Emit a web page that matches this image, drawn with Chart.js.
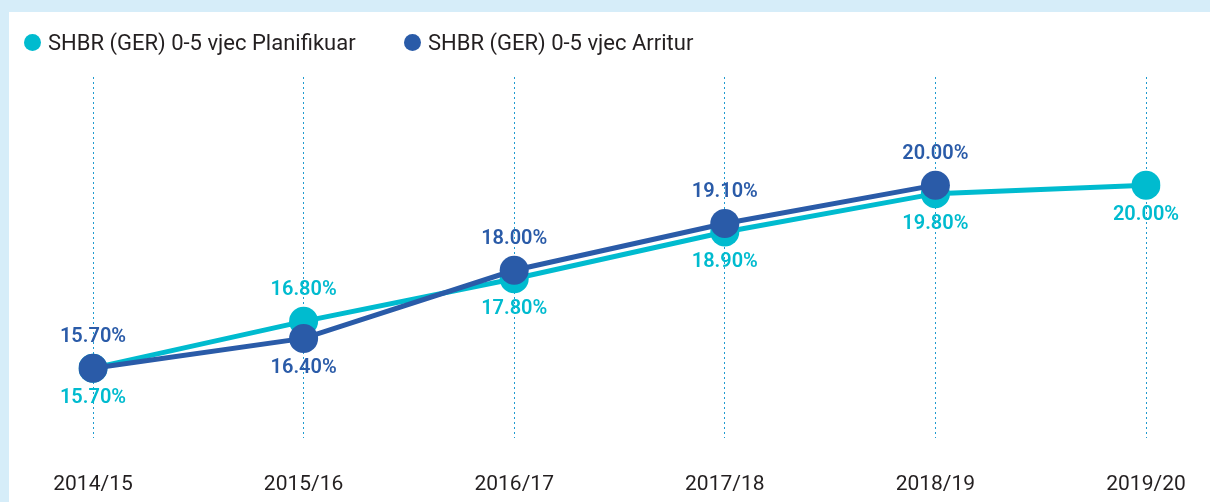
<!DOCTYPE html>
<html>
<head>
<meta charset="utf-8">
<script src="https://cdn.jsdelivr.net/npm/chart.js@4/dist/chart.umd.min.js"></script>
<style>
  html, body { margin:0; padding:0; width:1210px; height:502px; overflow:hidden; background:#d6edf9; }
  #panel { position:absolute; left:9px; top:12px; right:0; bottom:0; background:#ffffff; }
  #c { position:absolute; left:0; top:0; }
  .lg { position:absolute; top:29px; height:26px; display:flex; align-items:center;
        font-family:Roboto, sans-serif; font-size:22px; color:#231f20; white-space:nowrap; }
  .dot { width:17px; height:17px; border-radius:50%; margin-right:7px; flex:none; }
</style>
</head>
<body>
<div id="panel"></div>
<canvas id="c" width="1210" height="502"></canvas>
<div id="legend"></div>
<script>
const categories = ['2014/15','2015/16','2016/17','2017/18','2018/19','2019/20'];
const planned    = [15.7, 16.8, 17.8, 18.9, 19.8, 20.0];
const achieved   = [15.7, 16.4, 18.0, 19.1, 20.0, null];
const seriesNames = ['SHBR (GER) 0-5 vjec Planifikuar', 'SHBR (GER) 0-5 vjec Arritur'];
const yMin = 14.06, yMax = 22.54;

const CYAN = '#00bbcf';
const DARK = '#2a5ba8';

// HTML legend
const legendPos = [24, 404];
const legendColors = [CYAN, DARK];
const lg = document.getElementById('legend');
seriesNames.forEach((n, i) => {
  const d = document.createElement('div');
  d.className = 'lg';
  d.style.left = legendPos[i] + 'px';
  d.innerHTML = '<span class="dot" style="background:' + legendColors[i] + '"></span><span></span>';
  d.lastChild.textContent = n;
  lg.appendChild(d);
});

const valueLabels = {
  id: 'valueLabels',
  afterDatasetsDraw(chart) {
    const ctx = chart.ctx;
    const ds = chart.data.datasets;
    ctx.save();
    ctx.font = '600 20px Roboto, sans-serif';
    ctx.textAlign = 'center';
    ctx.textBaseline = 'middle';
    ds.forEach((d, di) => {
      const meta = chart.getDatasetMeta(di);
      meta.data.forEach((pt, i) => {
        const v = d.data[i];
        if (v == null) return;
        const other = ds[1 - di].data[i];
        let above;
        if (other == null) above = false;
        else if (v > other) above = true;
        else if (v < other) above = false;
        else above = (di === 1);
        ctx.fillStyle = d.borderColor;
        ctx.fillText(v.toFixed(2) + '%', pt.x, pt.y + (above ? -31 : 30));
      });
    });
    ctx.restore();
  }
};

new Chart(document.getElementById('c'), {
  type: 'line',
  data: {
    labels: categories,
    datasets: [
      { label: seriesNames[0], data: planned, borderColor: CYAN, backgroundColor: CYAN,
        borderWidth: 5, pointRadius: 14.5, pointHoverRadius: 14.5, pointBorderWidth: 0, order: 1, tension: 0 },
      { label: seriesNames[1], data: achieved, borderColor: DARK, backgroundColor: DARK,
        borderWidth: 5, pointRadius: 14.5, pointHoverRadius: 14.5, pointBorderWidth: 0, order: 0, tension: 0 }
    ]
  },
  options: {
    responsive: false,
    animation: false,
    devicePixelRatio: 1,
    layout: { padding: { top: 77, left: 93, right: 64, bottom: 5 } },
    plugins: { legend: { display: false }, tooltip: { enabled: false } },
    scales: {
      x: {
        offset: false,
        afterFit(scale) { scale.height = 59; scale.paddingLeft = 0; scale.paddingRight = 0; },
        grid: { display: true, color: '#1f9bd0', lineWidth: 1, drawTicks: false },
        border: { display: false, dash: [2, 3] },
        ticks: { color: '#231f20', font: { family: 'Roboto, sans-serif', size: 21 }, padding: 34, maxRotation: 0, autoSkip: false }
      },
      y: {
        display: false,
        min: yMin,
        max: yMax
      }
    }
  },
  plugins: [valueLabels]
});
</script>
</body>
</html>
